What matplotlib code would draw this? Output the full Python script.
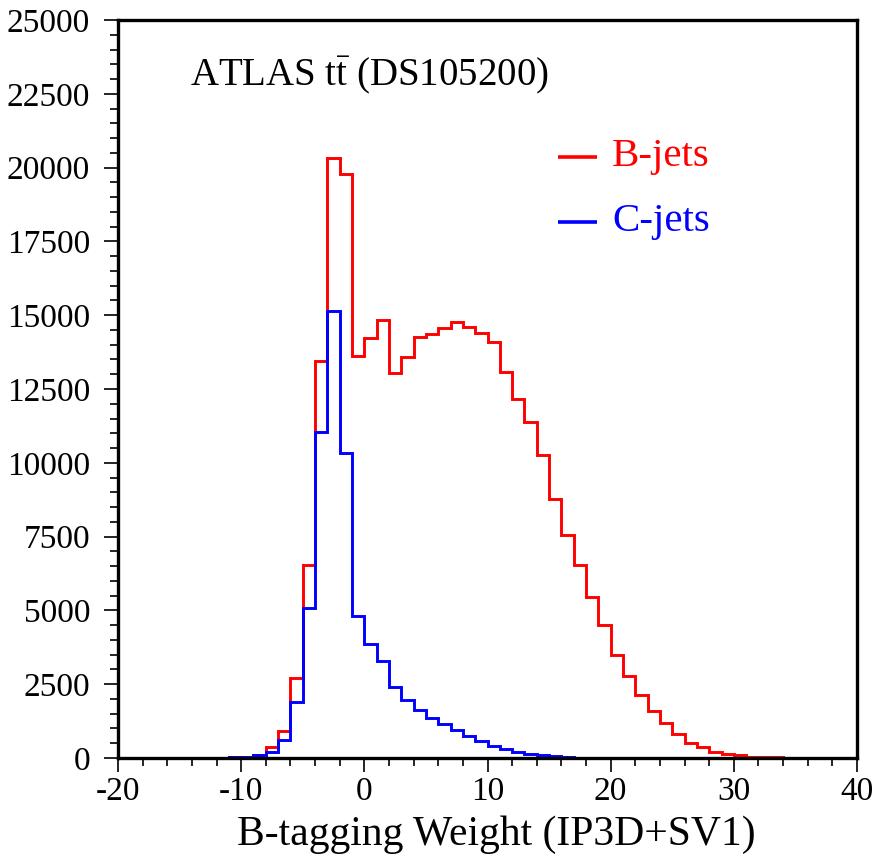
import numpy as np
import matplotlib
matplotlib.use("Agg")
import matplotlib.pyplot as plt
from matplotlib.ticker import MultipleLocator

plt.rcParams['font.family'] = ['Liberation Serif', 'DejaVu Serif']
plt.rcParams['mathtext.fontset'] = 'custom'
plt.rcParams['mathtext.rm'] = 'Liberation Serif'
plt.rcParams['mathtext.it'] = 'Liberation Serif:italic'
plt.rcParams['axes.unicode_minus'] = False

bin_edges = list(range(-20, 41))

b_jets = [0, 0, 0, 0, 0, 0, 0, 0, 0,
          20, 40, 100, 360, 910, 2720, 6550, 13460, 20330, 19790,
          13610, 14230, 14840, 13030, 13570, 14250, 14350, 14550, 14780, 14610,
          14390, 14090, 13070, 12160, 11380, 10260, 8780, 7550, 6530, 5470,
          4500, 3500, 2780, 2140, 1600, 1200, 800, 520, 360, 220,
          140, 85, 50, 35, 20,
          0, 0, 0, 0, 0, 0]

c_jets = [0, 0, 0, 0, 0, 0, 0, 0, 0,
          30, 40, 90, 215, 620, 1910, 5080, 11030, 15130, 10320,
          4820, 3850, 3290, 2420, 1975, 1630, 1350, 1160, 955, 750,
          570, 410, 290, 220, 130, 90, 60, 35, 15,
          0, 0, 0, 0, 0, 0, 0, 0, 0, 0, 0, 0, 0, 0, 0, 0, 0, 0, 0, 0, 0, 0]

labels = ["B-jets", "C-jets"]
colors = ["#ff0000", "#0000ff"]

fig = plt.figure(figsize=(8.73, 8.60), dpi=100)
ax = fig.add_axes([118/873, 1-758/860, (857-118)/873, (758-20)/860])

ax.stairs(b_jets, bin_edges, color=colors[0], linewidth=2.1)
ax.stairs(c_jets, bin_edges, color=colors[1], linewidth=2.1)

ax.set_xlim(-20, 40)
ax.set_ylim(0, 25000)
ax.xaxis.set_major_locator(MultipleLocator(10))
ax.xaxis.set_minor_locator(MultipleLocator(2))
ax.yaxis.set_major_locator(MultipleLocator(2500))
ax.yaxis.set_minor_locator(MultipleLocator(500))
ax.tick_params(which='both', direction='out', top=False, right=False,
               labelsize=24, width=1.2)
ax.tick_params(axis='x', which='both', pad=3)
ax.tick_params(axis='y', which='both', pad=10)
ax.tick_params(which='major', length=10)
ax.tick_params(which='minor', length=6)
for s in ax.spines.values():
    s.set_linewidth(2.4)

ax.set_xlabel("B-tagging Weight (IP3D+SV1)", fontsize=30)
ax.xaxis.set_label_coords(0.5115, -0.1043, transform=ax.transAxes)
ax.xaxis.label.set_va('center')

ax.text(0.097, 0.9255, r"ATLAS t$\bar{\mathrm{t}}$ (DS105200)", transform=ax.transAxes,
        fontsize=28, ha='left', va='center')

# legend
leg_y = [0.8144, 0.7263]
for lab, col, yy in zip(labels, colors, leg_y):
    ax.plot([0.5954, 0.6482], [yy, yy], color=col, linewidth=2.6,
            transform=ax.transAxes, clip_on=False, solid_capstyle='butt')
    ax.text(0.6685, yy, lab, color=col, fontsize=29.5, transform=ax.transAxes,
            ha='left', va='center')

fig.savefig("out.png", dpi=100)
